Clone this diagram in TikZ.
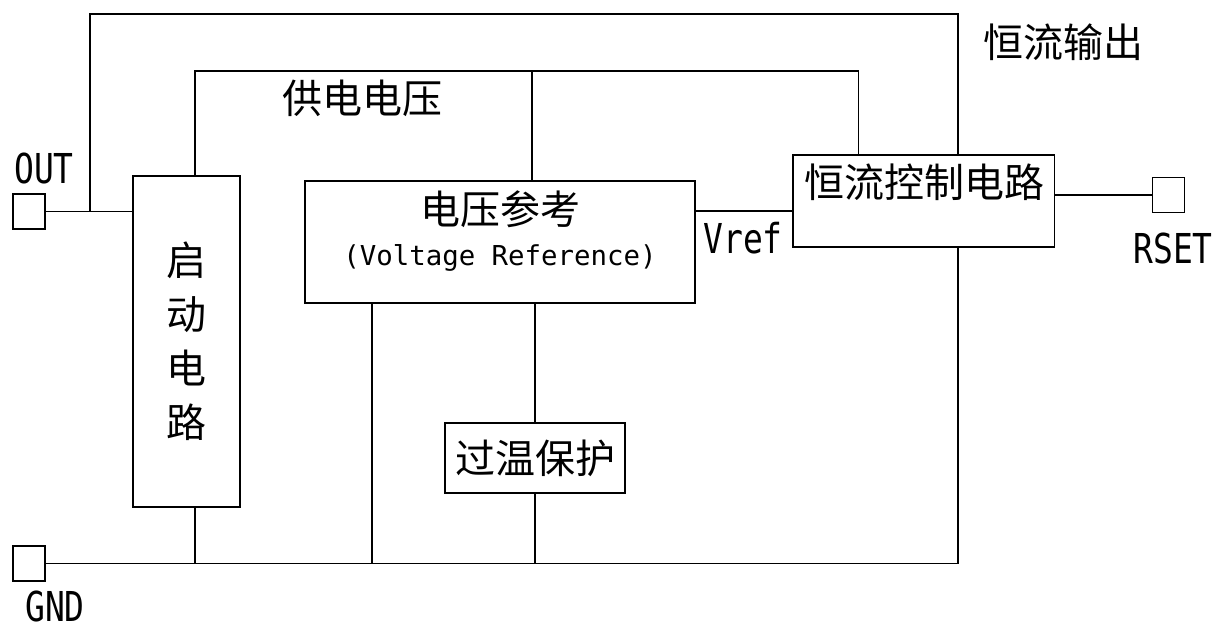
\documentclass[tikz,border=0pt]{standalone}
\usepackage{fontspec}
\setmainfont{Noto Sans CJK SC}
\newfontfamily\pinfont[FakeStretch=0.8]{DejaVu Sans Mono}
\newfontfamily\subfont{DejaVu Sans Mono}
\usetikzlibrary{positioning}

\begin{document}
\begin{tikzpicture}[x=0.5pt,y=-0.5pt,
  wire/.style={line width=0.6pt},
  blk/.style={draw,line width=0.6pt,inner sep=0pt,font=\fontsize{20pt}{27pt}\selectfont,align=center},
  pad/.style={draw,line width=0.6pt,inner sep=0pt,minimum width=16pt,minimum height=17.5pt},
  pin/.style={inner sep=0pt,font=\pinfont\fontsize{20.6pt}{24pt}\selectfont},
  cjk/.style={inner sep=0pt,font=\fontsize{20pt}{24pt}\selectfont}]
  \useasboundingbox (0,0) rectangle (1215,628);
  \node[pad] (outpad) at (29,211.5) {};
  \node[pad] (gndpad) at (29,563.5) {};
  \node[pad] (rsetpad) at (1168.5,195) {};
  \node[blk,minimum width=53.5pt,minimum height=165.5pt] (startbox) at (186.5,341.5) {启\\动\\电\\路};
  \node[blk,minimum width=195pt,minimum height=61pt] (vrefbox) at (500,242) {};
  \node[blk,minimum width=130.75pt,minimum height=46pt] (ctrlbox) at (923.75,201) {};
  \node[blk,minimum width=90pt,minimum height=35pt] (otpbox) at (535,458) {过温保护};
  \node[cjk] (vreftitle) at (500,209) {电压参考};
  \node[inner sep=0pt,font=\subfont\fontsize{13.7pt}{16pt}\selectfont] (vrefsub) at (500,258) {(Voltage Reference)};
  \node[cjk] (ctrltitle) at (924,182) {恒流控制电路};
  \node[cjk] (supplylbl) at (362,98) {供电电压};
  \node[cjk] (iout) at (1063,42) {恒流输出};
  \node[pin] (outlbl) at (44,168) {OUT};
  \node[pin] (gndlbl) at (55,606) {GND};
  \node[pin] (rsetlbl) at (1173,248) {RSET};
  \node[pin] (vreflbl) at (743,238) {Vref};
  \coordinate (outtap) at (90,211.5);
  \coordinate (outcorner) at (958,14);
  \coordinate (supleft) at (195,71);
  \coordinate (supright) at (858.6,71);
  \coordinate (suptap) at (532,71);
  \coordinate (vreftap) at (695,211);
  \coordinate (gndtap) at (372,563.5);
  \draw[wire] (outpad.east) -- (startbox.west |- outpad.east);
  \draw[wire] (outtap) |- (outcorner) -- (outcorner |- ctrlbox.north);
  \draw[wire] (supleft |- startbox.north) -- (supleft) -- (supright) -- (supright |- ctrlbox.north);
  \draw[wire] (suptap) -- (suptap |- vrefbox.north);
  \draw[wire] (vreftap) -- (vreftap -| ctrlbox.west);
  \draw[wire] (ctrlbox.east |- rsetpad.west) -- (rsetpad.west);
  \draw[wire] (gndpad.east) -- (outcorner |- gndpad.east) -- (outcorner |- ctrlbox.south);
  \draw[wire] (supleft |- startbox.south) -- (supleft |- gndpad.east);
  \draw[wire] (gndtap |- vrefbox.south) -- (gndtap);
  \draw[wire] (otpbox.north |- vrefbox.south) -- (otpbox.north);
  \draw[wire] (otpbox.south) -- (otpbox.south |- gndpad.east);
\end{tikzpicture}
\end{document}
